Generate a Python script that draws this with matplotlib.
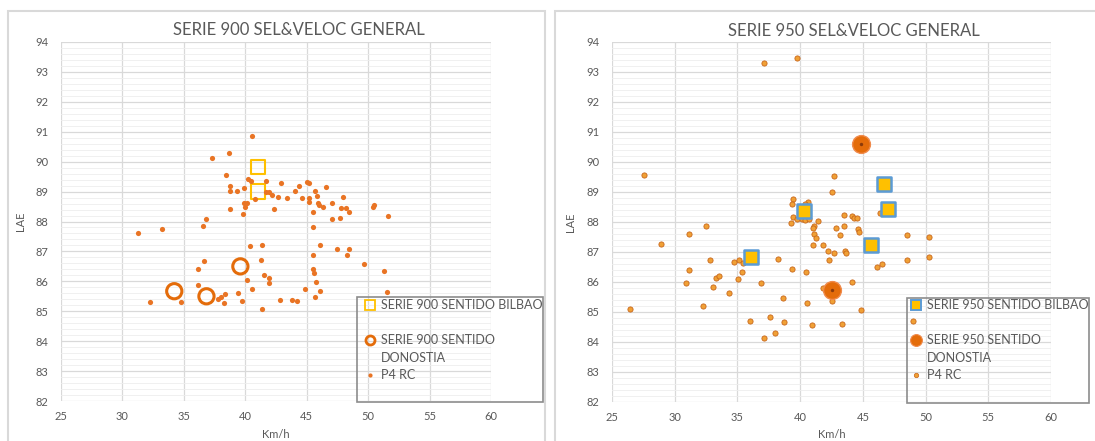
import matplotlib
matplotlib.use("Agg")
import matplotlib.pyplot as plt
from matplotlib.lines import Line2D
from matplotlib.patches import Rectangle
from matplotlib.ticker import MultipleLocator

plt.rcParams['font.family'] = ['Lato', 'DejaVu Sans']

# --- datos SERIE 900 ---
s900_bilbao_x = [41.03, 41.03]
s900_bilbao_y = [89.81, 89.00]
s900_donostia_x = [34.22, 36.84, 39.60]
s900_donostia_y = [85.67, 85.50, 86.50]
p4_900_x = [40.57, 38.65, 37.32, 38.41, 38.73, 38.73, 39.32, 39.89, 40.22, 40.49,
            41.65, 40.81, 41.70, 41.90, 42.16, 42.70, 42.90, 43.39, 42.35, 39.89,
            40.16, 39.95, 38.73, 39.81, 36.78, 36.57, 33.19, 31.24, 44.04, 44.40,
            45.00, 45.22, 44.59, 45.16, 45.16, 45.49, 45.68, 45.85, 45.90, 45.98,
            46.31, 46.58, 45.55, 47.08, 47.08, 47.68, 47.92, 47.81, 48.17, 48.44,
            50.41, 50.46, 51.64,
            40.41, 41.32, 46.07, 47.49, 48.44, 48.25, 45.49, 36.65, 41.24, 49.67,
            36.16, 45.55, 45.63, 51.28, 41.49, 41.92, 41.92, 40.16, 45.74, 36.16,
            40.57, 44.86, 46.09, 51.50, 39.40, 38.32, 38.05, 37.78, 45.66, 42.81,
            43.77, 44.20, 39.73, 34.73, 32.24, 38.24, 41.38]
p4_900_y = [90.86, 90.30, 90.13, 89.54, 89.17, 89.02, 89.02, 89.13, 89.42, 89.37,
            89.37, 88.74, 89.00, 88.97, 88.89, 88.81, 89.30, 88.78, 88.41, 88.61,
            88.61, 88.50, 88.41, 88.26, 88.09, 87.86, 87.74, 87.61, 89.03, 89.19,
            89.33, 89.30, 88.78, 88.78, 88.64, 88.33, 89.02, 88.86, 88.63, 88.56,
            88.50, 89.14, 87.83, 88.61, 88.08, 88.13, 88.81, 88.44, 88.44, 88.33,
            88.50, 88.56, 88.17,
            87.17, 87.23, 87.20, 87.08, 87.08, 86.87, 86.87, 86.68, 86.72, 86.59,
            86.41, 86.41, 86.28, 86.34, 86.20, 86.11, 85.94, 86.03, 85.99, 85.89,
            85.76, 85.76, 85.67, 85.66, 85.60, 85.56, 85.48, 85.41, 85.46, 85.39,
            85.39, 85.34, 85.34, 85.31, 85.31, 85.28, 85.08]

# --- datos SERIE 950 ---
s950_bilbao_x = [36.08, 40.31, 46.69, 46.98, 45.63]
s950_bilbao_y = [86.83, 88.36, 89.27, 88.44, 87.22]
s950_donostia_x = [44.83, 42.57]
s950_donostia_y = [90.60, 85.75]
p4_950_x = [37.14, 39.75, 27.58, 28.88, 26.46, 31.17, 32.50, 32.80, 31.17, 30.88,
            33.08, 33.30, 33.56, 35.02, 34.35, 32.23, 34.76, 35.15, 35.47, 35.37,
            36.90, 38.24, 39.38, 38.61, 36.00, 37.57, 38.69, 37.14, 37.97, 39.46,
            39.38, 39.46, 39.27, 39.78, 40.13, 40.39, 40.71, 40.65, 40.39, 41.40,
            41.10, 41.00, 41.10, 41.24, 41.00, 41.80, 42.25, 42.70, 43.58, 43.63,
            42.33, 42.89, 43.53, 43.18, 43.53, 44.16, 44.30, 44.56, 44.59, 44.70,
            42.73, 42.54, 46.37, 46.16, 46.50, 48.50, 50.30, 48.55, 50.30, 44.16,
            41.80, 42.54, 40.53, 44.83, 40.93, 43.37, 48.98, 40.47, 36.00]
p4_950_y = [93.30, 93.48, 89.57, 87.27, 85.11, 87.60, 87.86, 86.72, 86.39, 85.97,
            85.84, 86.13, 86.20, 86.11, 85.64, 85.21, 86.66, 86.73, 86.62, 86.34,
            85.97, 86.76, 86.45, 85.46, 84.70, 84.83, 84.66, 84.15, 84.31, 88.77,
            88.60, 88.16, 87.96, 88.11, 88.11, 88.07, 88.11, 88.68, 88.60, 88.05,
            87.88, 87.81, 87.60, 87.47, 87.22, 87.22, 87.05, 86.97, 87.05, 86.97,
            86.75, 87.79, 87.86, 87.57, 88.22, 88.20, 88.14, 88.12, 87.78, 87.67,
            89.52, 89.01, 88.29, 86.50, 86.59, 87.57, 87.51, 86.75, 86.82, 85.99,
            85.80, 85.38, 85.29, 85.07, 84.56, 84.60, 84.70, 86.34, 86.80]

GRIS = '#595959'
W, H = 1095, 441


def estilo_ejes(ax):
    ax.set_xlim(25, 60)
    ax.set_ylim(82, 94)
    ax.xaxis.set_major_locator(MultipleLocator(5))
    ax.yaxis.set_major_locator(MultipleLocator(1))
    ax.yaxis.set_minor_locator(MultipleLocator(0.2))
    ax.grid(which='major', color='#D9D9D9', lw=0.9)
    ax.grid(which='minor', axis='y', color='#EEEEEE', lw=0.6)
    ax.set_axisbelow(True)
    for s in ax.spines.values():
        s.set_visible(False)
    ax.tick_params(which='both', length=0, labelsize=8, colors=GRIS)
    ax.tick_params(axis='y', pad=9)
    ax.tick_params(axis='x', pad=7)
    ax.set_xlabel('Km/h', fontsize=8, color=GRIS)
    ax.set_ylabel('LAE', fontsize=8, color=GRIS)


fig = plt.figure(figsize=(W / 100, H / 100), dpi=100)

# marcos de cada grafico
fig.patches.append(Rectangle((8 / W, -0.05), 537 / W, (H - 11) / H + 0.05,
                             transform=fig.transFigure, fill=False,
                             ec='#D9D9D9', lw=1.5))
fig.patches.append(Rectangle((555 / W, -0.05), 560 / W, (H - 11) / H + 0.05,
                             transform=fig.transFigure, fill=False,
                             ec='#D9D9D9', lw=1.5))

# ---------- SERIE 900 ----------
ax1 = fig.add_axes([61 / W, (H - 401) / H, 430 / W, 359 / H])
estilo_ejes(ax1)
ax1.yaxis.set_label_coords(-0.081, 0.5)
ax1.xaxis.set_label_coords(0.5, -0.078)
ax1.scatter(s900_bilbao_x, s900_bilbao_y, marker='s', s=105, facecolors='none',
            edgecolors='#FFC000', linewidths=1.5, zorder=3)
ax1.scatter(s900_donostia_x, s900_donostia_y, marker='o', s=120, facecolors='none',
            edgecolors='#E46C0A', linewidths=2.2, zorder=3)
ax1.scatter(p4_900_x, p4_900_y, marker='o', s=14, color='#E97424', lw=0, zorder=4)
fig.text(299 / W, 1 - 30 / H, 'SERIE 900 SEL&VELOC GENERAL', ha='center',
         va='center', fontsize=12, color=GRIS)

h900 = [Line2D([], [], ls='none', marker='s', ms=6.5, mfc='none', mec='#FFC000', mew=1.3),
        Line2D([], [], ls='none'),
        Line2D([], [], ls='none', marker='o', ms=6.5, mfc='none', mec='#E46C0A', mew=2),
        Line2D([], [], ls='none'),
        Line2D([], [], ls='none', marker='o', ms=3, color='#E97424', mew=0)]
l900 = ['SERIE 900 SENTIDO BILBAO', ' ', 'SERIE 900 SENTIDO', 'DONOSTIA', 'P4 RC']
fig.legend(h900, l900, loc='upper left', bbox_to_anchor=(364 / W, 1 - 299 / H),
           bbox_transform=fig.transFigure, frameon=False, borderpad=0,
           borderaxespad=0, handlelength=1.0, handletextpad=0.35,
           labelspacing=0.44, fontsize=9, labelcolor=GRIS)
fig.patches.append(Rectangle((357 / W, (H - 402) / H), 186 / W, 105 / H,
                             transform=fig.transFigure, fill=False,
                             ec='#8C8C8C', lw=1.2))

# ---------- SERIE 950 ----------
ax2 = fig.add_axes([612 / W, (H - 402) / H, 439 / W, 360 / H])
estilo_ejes(ax2)
ax2.yaxis.set_label_coords(-0.082, 0.5)
ax2.xaxis.set_label_coords(0.5, -0.075)
ax2.scatter(p4_950_x, p4_950_y, marker='o', s=14, facecolors='#F0A035',
            edgecolors='#C8661A', linewidths=0.6, zorder=2)
ax2.scatter(s950_bilbao_x, s950_bilbao_y, marker='s', s=115, facecolors='#FFC000',
            edgecolors='#5B9BD5', linewidths=1.8, zorder=3)
ax2.scatter(s950_donostia_x, s950_donostia_y, marker='o', s=165, facecolors='#E46C0A',
            edgecolors='#F08A4B', linewidths=1.0, zorder=3)
ax2.scatter(s950_donostia_x, s950_donostia_y, marker='o', s=6, color='#8B3A0A',
            lw=0, zorder=4)
fig.text(854 / W, 1 - 31 / H, 'SERIE 950 SEL&VELOC GENERAL', ha='center',
         va='center', fontsize=12, color=GRIS)

h950 = [Line2D([], [], ls='none', marker='s', ms=7, mfc='#FFC000', mec='#5B9BD5', mew=1.4),
        Line2D([], [], ls='none'),
        Line2D([], [], ls='none', marker='o', ms=8.5, mfc='#E46C0A', mec='#F08A4B', mew=0.8),
        Line2D([], [], ls='none'),
        Line2D([], [], ls='none', marker='o', ms=3.2, mfc='#F0A035', mec='#C8661A', mew=0.5)]
l950 = ['SERIE 950 SENTIDO BILBAO', ' ', 'SERIE 950 SENTIDO', 'DONOSTIA', 'P4 RC']
fig.legend(h950, l950, loc='upper left', bbox_to_anchor=(910 / W, 1 - 299 / H),
           bbox_transform=fig.transFigure, frameon=False, borderpad=0,
           borderaxespad=0, handlelength=1.0, handletextpad=0.35,
           labelspacing=0.44, fontsize=9, labelcolor=GRIS)
fig.patches.append(Rectangle((907 / W, (H - 403) / H), 182 / W, 105 / H,
                             transform=fig.transFigure, fill=False,
                             ec='#8C8C8C', lw=1.2))

fig.savefig('out.png', dpi=100)
